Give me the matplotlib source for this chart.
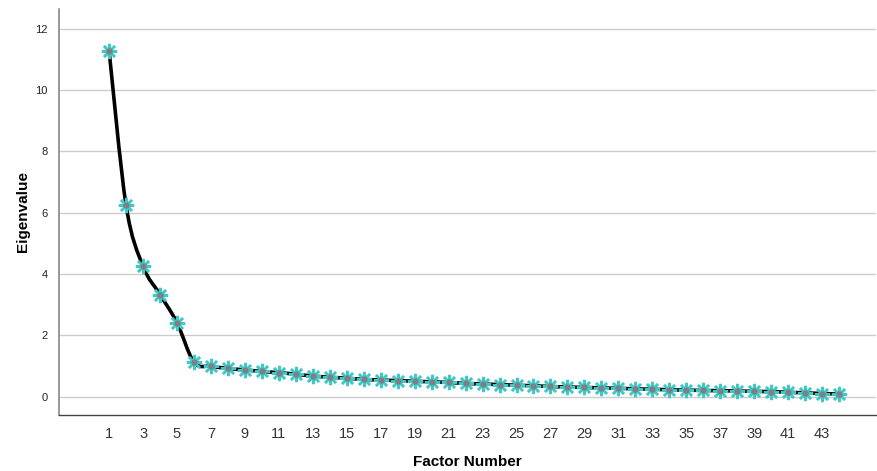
import matplotlib

matplotlib.use("Agg")

import matplotlib.pyplot as plt
import numpy as np
from matplotlib.path import Path
from matplotlib.patches import PathPatch

plt.rcParams["font.family"] = ["Liberation Sans", "DejaVu Sans"]

factors = list(range(1, 45))
eigenvalues = [
    11.28, 6.24, 4.25, 3.33, 2.41, 1.12, 0.99, 0.92, 0.87, 0.82,
    0.78, 0.73, 0.67, 0.63, 0.60, 0.56, 0.54, 0.52, 0.50, 0.48,
    0.46, 0.43, 0.41, 0.39, 0.37, 0.35, 0.33, 0.31, 0.30, 0.28,
    0.27, 0.25, 0.24, 0.22, 0.21, 0.20, 0.19, 0.18, 0.17, 0.16,
    0.14, 0.12, 0.10, 0.08,
]
x_ticks = list(range(1, 44, 2))
y_ticks = [0, 2, 4, 6, 8, 10, 12]


def smooth_path(x, y):
    # Catmull-Rom curve through the points, drawn as cubic Bezier segments
    x = np.asarray(x, dtype=float)
    y = np.asarray(y, dtype=float)
    verts = [(x[0], y[0])]
    codes = [Path.MOVETO]
    n = len(x)
    for i in range(n - 1):
        i0 = max(i - 1, 0)
        i3 = min(i + 2, n - 1)
        c1 = (x[i] + (x[i + 1] - x[i0]) / 6, y[i] + (y[i + 1] - y[i0]) / 6)
        c2 = (x[i + 1] - (x[i3] - x[i]) / 6, y[i + 1] - (y[i3] - y[i]) / 6)
        verts += [c1, c2, (x[i + 1], y[i + 1])]
        codes += [Path.CURVE4] * 3
    return Path(verts, codes)


fig = plt.figure(figsize=(8.77, 4.71), dpi=100)
ax = fig.add_axes([0.0673, 0.119, 0.932, 0.862])

ax.add_patch(PathPatch(smooth_path(factors, eigenvalues), facecolor="none",
                       edgecolor="black", linewidth=2.6, zorder=3))
ax.plot(factors, eigenvalues, linestyle="none", marker=(8, 2, 0), markersize=11,
        markeredgecolor="#3ec8c8", markeredgewidth=1.8, zorder=4)
ax.plot(factors, eigenvalues, linestyle="none", marker="o", markersize=4.5,
        color="#7f7f7f", markeredgewidth=0, zorder=5)

ax.set_xlim(-1.95, 46.2)
ax.set_ylim(-0.6, 12.65)
ax.set_xticks(x_ticks)
ax.set_yticks(y_ticks)
ax.tick_params(axis="x", length=0, labelsize=10.5, labelcolor="#333333", pad=9)
ax.tick_params(axis="y", length=0, labelsize=8, labelcolor="#222222", pad=8)

ax.grid(axis="y", color="#cccccc", linewidth=1)
ax.set_axisbelow(True)
for side in ("top", "right"):
    ax.spines[side].set_visible(False)
ax.spines["left"].set_color("#888888")
ax.spines["left"].set_linewidth(1.2)
ax.spines["bottom"].set_color("#444444")
ax.spines["bottom"].set_linewidth(1)

ax.set_xlabel("Factor Number", fontsize=11, fontweight="bold", labelpad=10)
ax.set_ylabel("Eigenvalue", fontsize=11, fontweight="bold", labelpad=4)

fig.savefig("out.png", dpi=100)
plt.close(fig)
